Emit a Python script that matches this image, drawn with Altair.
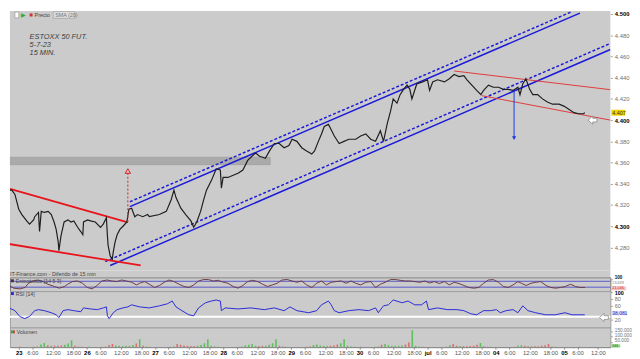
import json
import altair as alt
import numpy as np
import pandas as pd

FONT = "Liberation Sans"
BG = "#cbcbcb"
W = 611
X_DOMAIN = [-1.135, 172.2]
P_DOMAIN = [4258.3, 4502.8]
S_DOMAIN = [-20, 120]
R_DOMAIN = [-2.9, 102.9]
V_DOMAIN = [0, 187500]
H_PRICE, H_STRIP, H_STOCH, H_RSI, H_VOL = 264, 7, 14, 37, 20

# ---------------- data ----------------
day_labels = ["23", "26", "27", "28", "29", "30", "jul", "04", "05"]
tick_hours = [0, 4, 10, 16]          # session hours: day start, 6:00, 12:00, 18:00
price_ticks = list(range(4280, 4501, 20))

# (session hour, price)
price_points = [
    (-3.1, 4332), (-2.0, 4334), (-0.6, 4334), (0.3, 4330), (1.4, 4316), (2.3, 4311), (3.7, 4305),
    (4.5, 4302), (5.7, 4306), (6.0, 4309), (7.1, 4313), (7.4, 4295), (7.9, 4314), (8.8, 4313),
    (9.9, 4314), (10.8, 4311), (11.6, 4304), (12.2, 4297), (12.8, 4285), (13.0, 4277), (13.6, 4291),
    (14.5, 4304), (15.6, 4306), (16.5, 4304), (17.3, 4305), (18.4, 4299), (19.3, 4295), (19.9, 4292),
    (20.1, 4304), (21.3, 4306), (22.1, 4305), (23.5, 4304), (25.0, 4299), (25.8, 4302), (26.7, 4308),
    (27.0, 4291), (27.2, 4282), (27.8, 4272), (28.4, 4269), (28.7, 4276), (29.2, 4285), (29.8, 4292),
    (30.6, 4297), (31.5, 4300), (32.6, 4304), (33.2, 4316), (34.0, 4317), (34.9, 4309), (35.7, 4311),
    (37.2, 4309), (38.6, 4311), (39.1, 4309), (42.0, 4311), (44.0, 4314), (45.4, 4325), (46.2, 4334),
    (46.8, 4327), (48.2, 4317), (49.6, 4311), (51.1, 4305), (51.9, 4299), (52.8, 4304), (53.9, 4314),
    (54.8, 4325), (55.6, 4334), (57.0, 4343), (58.4, 4354), (59.6, 4353), (59.9, 4336), (60.4, 4346),
    (61.8, 4346), (63.3, 4348), (64.7, 4350), (66.1, 4353), (67.5, 4362), (68.4, 4365), (69.8, 4369),
    (70.9, 4366), (71.8, 4365), (72.6, 4364), (73.8, 4371), (75.2, 4378), (76.6, 4378), (78.0, 4374),
    (79.4, 4376), (80.3, 4382), (81.7, 4380), (83.1, 4374), (84.5, 4371), (86.0, 4368), (86.8, 4371),
    (87.9, 4380), (88.8, 4387), (89.6, 4394), (90.8, 4396), (91.6, 4391), (92.5, 4385), (93.9, 4378),
    (95.3, 4380), (96.7, 4382), (98.7, 4382), (100.1, 4385), (101.6, 4387), (103.0, 4382), (104.4, 4380),
    (105.8, 4390), (106.7, 4380), (107.8, 4397), (108.7, 4408), (109.5, 4420), (110.6, 4416), (111.5, 4424),
    (112.3, 4428), (113.5, 4433), (114.3, 4429), (114.9, 4420), (116.3, 4434), (118.0, 4436), (119.4, 4438),
    (120.0, 4428), (120.9, 4436), (122.3, 4438), (124.3, 4436), (125.7, 4439), (127.1, 4443), (128.5, 4441),
    (129.9, 4442), (130.8, 4438), (132.2, 4433), (133.6, 4428), (134.8, 4424), (135.6, 4428), (137.0, 4433),
    (138.4, 4431), (139.9, 4431), (141.3, 4429), (142.7, 4429), (144.1, 4428), (145.5, 4431), (146.1, 4424),
    (146.9, 4434), (147.8, 4439), (148.9, 4429), (149.8, 4424), (151.2, 4424), (152.6, 4420), (154.0, 4417),
    (155.5, 4415), (157.4, 4415), (158.9, 4413), (160.3, 4410), (161.7, 4407), (163.1, 4406), (164.5, 4406),
    (164.8, 4407),
]

stoch_points = [
    (-3.4, 77), (-2.0, 50), (-0.1, 10), (1.8, 3), (3.2, 17), (4.2, 60), (5.6, 83), (7.0, 93), (8.4, 77), (9.8, 50),
    (11.7, 27), (13.1, 10), (14.6, 27), (15.5, 50), (16.9, 77), (18.3, 83), (19.8, 60), (21.2, 17), (22.6, 3), (24.0, 37),
    (25.4, 83), (26.9, 93), (28.3, 83), (29.7, 77), (31.1, 93), (32.5, 83), (34.0, 70), (35.4, 43), (36.3, 60), (37.7, 77),
    (39.1, 50), (40.6, 17), (42.0, 37), (43.4, 70), (44.8, 93), (46.2, 77), (47.7, 50), (49.1, 27), (50.5, 17), (51.9, 43),
    (53.3, 83), (54.8, 98), (56.2, 97), (57.6, 83), (59.0, 90), (59.9, 77), (61.8, 60), (63.3, 27), (64.7, 10), (66.1, 37),
    (67.5, 77), (68.9, 90), (70.4, 77), (71.8, 50), (73.2, 27), (74.6, 43), (76.0, 60), (77.4, 93), (78.9, 98), (80.3, 83),
    (81.7, 70), (83.1, 83), (84.5, 43), (86.0, 17), (87.4, 60), (88.8, 83), (90.2, 43), (91.6, 70), (93.0, 77), (94.5, 83),
    (95.9, 60), (97.3, 83), (98.7, 60), (100.1, 43), (101.6, 70), (103.0, 77), (104.4, 17), (105.8, 50), (107.2, 70), (108.7, 97),
    (110.1, 98), (111.5, 90), (112.9, 83), (114.3, 83), (115.7, 77), (117.2, 70), (118.6, 83), (120.0, 63), (121.4, 77), (122.8, 57),
    (124.3, 77), (125.7, 43), (127.1, 70), (128.5, 57), (129.9, 37), (131.3, 17), (132.8, 10), (134.2, 17), (135.6, 60), (137.0, 93),
    (138.4, 97), (139.9, 70), (141.3, 27), (142.7, 17), (144.1, 43), (145.5, 77), (146.5, 60), (147.9, 37), (149.3, 60), (150.7, 70),
    (152.1, 77), (153.6, 37), (155.0, 17), (156.4, 10), (157.8, 17), (159.2, 27), (160.7, 50), (162.1, 27), (163.5, 17), (164.9, 17),
]

rsi_points = [
    (-3.4, 57), (-1.4, 54), (0.3, 46), (1.7, 29), (3.1, 23), (4.5, 29), (6.0, 46), (7.1, 49), (8.8, 46), (10.8, 40),
    (12.2, 34), (13.0, 26), (14.2, 46), (15.6, 49), (17.3, 46), (19.3, 43), (20.1, 54), (22.1, 51), (24.1, 49), (25.8, 54),
    (26.7, 57), (27.0, 31), (27.5, 23), (28.7, 40), (29.8, 49), (31.5, 54), (32.9, 57), (34.0, 63), (36.3, 57), (39.1, 54),
    (42.0, 60), (44.3, 66), (45.7, 74), (46.8, 57), (48.5, 46), (50.5, 34), (51.9, 31), (53.3, 54), (55.3, 69), (57.0, 74),
    (58.4, 77), (59.6, 74), (59.9, 46), (61.0, 54), (64.7, 51), (68.4, 54), (72.3, 49), (75.2, 54), (78.0, 46), (79.7, 57),
    (81.7, 46), (85.1, 40), (87.4, 46), (88.8, 63), (90.8, 74), (91.6, 63), (92.5, 46), (93.9, 40), (96.7, 46), (99.6, 49),
    (102.4, 46), (104.4, 54), (105.2, 40), (106.7, 60), (108.1, 63), (109.5, 77), (112.1, 69), (113.8, 74), (115.7, 63), (117.7, 63),
    (119.1, 74), (119.7, 49), (122.3, 54), (125.1, 49), (127.9, 49), (129.9, 46), (131.9, 37), (133.6, 34), (135.6, 46), (137.6, 46),
    (139.3, 49), (140.4, 40), (142.1, 46), (144.1, 49), (145.5, 40), (146.9, 60), (148.4, 46), (150.6, 40), (153.5, 34), (156.3, 34),
    (159.1, 40), (161.1, 34), (163.1, 34), (164.8, 34),
]

# hourly volume (thousands), session hours 2:00 ... 21:00 for each trading day
volume_k = [
    [3, 2, 2, 2, 3, 5, 25, 40, 18, 14, 12, 12, 15, 22, 35, 65, 12, 6, 4, 2],
    [3, 2, 2, 2, 3, 6, 20, 30, 15, 12, 10, 12, 14, 20, 35, 75, 14, 7, 4, 2],
    [2, 2, 1, 2, 3, 5, 30, 22, 15, 12, 10, 11, 13, 20, 38, 75, 12, 6, 4, 2],
    [2, 1, 1, 2, 3, 5, 18, 22, 30, 12, 10, 12, 14, 22, 36, 75, 12, 6, 3, 2],
    [2, 2, 1, 2, 3, 5, 20, 25, 16, 12, 10, 12, 15, 24, 38, 75, 12, 6, 4, 2],
    [3, 2, 2, 2, 3, 6, 22, 30, 18, 14, 12, 14, 16, 26, 45, 160, 14, 7, 4, 2],
    [2, 1, 1, 1, 2, 4, 18, 30, 14, 10, 8, 9, 10, 14, 22, 40, 8, 4, 3, 2],
    [2, 1, 1, 1, 2, 4, 15, 18, 12, 9, 8, 8, 9, 12, 18, 30, 6, 3, 2, 1],
    [2, 1, 1, 2, 3],
]

# drawn annotations: (t1, p1, t2, p2)
band_zone = [(-3.4, 4358, 74.0, 4365)]
red_thick_lines = [(-1.13, 4335.2, 32.9, 4303.7), (-3.4, 4284.3, 36.6, 4263.0)]
blue_solid_lines = [(33.5, 4318.5, 163.4, 4500.9), (27.8, 4263.0, 172.2, 4466.6)]
blue_dashed_lines = [(33.5, 4323.1, 160.9, 4502.0), (26.4, 4266.7, 172.2, 4472.3)]
red_thin_lines = [(127.1, 4446.3, 172.2, 4428.7), (135.0, 4423.1, 172.2, 4400.0)]
red_target = [(32.9, 4304, 4352)]     # (t, from, to)
blue_target = [(144.4, 4427, 4383)]
note_lines = [(4.54, 4478.7, "ESTOXX 50 FUT."), (4.54, 4470.4, "5-7-23"), (4.54, 4463.0, "15 MIN.")]
last_price = 4407
price_marker = (167.1, 4400)
rsi_marker = (170.4, 26)
rsi_level = 28.6

# ---------------- tables ----------------
def seg_df(rows):
    return pd.DataFrame(rows, columns=["t1", "p1", "t2", "p2"])

price_df = pd.DataFrame(price_points, columns=["t", "p"])
stoch_df = pd.DataFrame(stoch_points, columns=["t", "v"])
rsi_df = pd.DataFrame(rsi_points, columns=["t", "v"])

vol_rows = []
for d, vals in enumerate(volume_k):
    for i, v in enumerate(vals):
        t = d * 20 + i + 0.5
        a = np.interp(t - 0.5, price_df.t, price_df.p)
        b = np.interp(t + 0.5, price_df.t, price_df.p)
        vol_rows.append({"t": t, "v": v * 1000, "dir": "up" if b >= a else "down"})
vol_df = pd.DataFrame(vol_rows)

x_ticks = [d * 20 + h for d in range(len(day_labels)) for h in tick_hours if d * 20 + h <= X_DOMAIN[1]]
dummy = pd.DataFrame({"a": [0]})

# ---------------- scales & axes ----------------
xs = alt.Scale(domain=X_DOMAIN, nice=False, zero=False)
ps = alt.Scale(domain=P_DOMAIN, nice=False, zero=False)
ss = alt.Scale(domain=S_DOMAIN, nice=False, zero=False)
rs = alt.Scale(domain=R_DOMAIN, nice=False, zero=False)
vs = alt.Scale(domain=V_DOMAIN, nice=False, zero=False)

ES_FMT = "replace(format(datum.value, ',.0f'), ',', '.')"

def right_axis(values, expr=None, bold_test=None, size=6, offset=0):
    kw = dict(orient="right", values=values, labelFontSize=size, tickSize=2, tickColor="#a0a0a0",
              domain=False, grid=False, title=None, labelPadding=2, labelOverlap=False,
              labelFlush=False, labelFont=FONT, labelOffset=offset)
    if expr:
        kw["labelExpr"] = expr
    if bold_test:
        kw["labelFontWeight"] = {"condition": {"test": bold_test, "value": "bold"}, "value": "normal"}
        kw["labelColor"] = {"condition": {"test": bold_test, "value": "#000000"}, "value": "#707070"}
    else:
        kw["labelColor"] = "#707070"
    return alt.Axis(**kw)

price_axis = right_axis(price_ticks, ES_FMT, "datum.value % 100 === 0")
stoch_axis = right_axis([100], None, "datum.value === 100", size=4.6, offset=-1.6)
rsi_axis = right_axis([100, 80, 60, 20], None, "datum.value === 100", size=5.5)
vol_axis = right_axis([50000, 100000, 150000], ES_FMT, None, size=4.8, offset=-1)

day_test = "datum.value % 20 === 0"
x_axis = alt.Axis(
    values=x_ticks,
    labelExpr=f"datum.value % 20 === 0 ? {json.dumps(day_labels)}[floor(datum.value / 20)] : (datum.value % 20 + 2) + ':00'",
    labelFontSize=6, labelFont=FONT,
    labelFontWeight={"condition": {"test": day_test, "value": "bold"}, "value": "normal"},
    labelColor={"condition": {"test": day_test, "value": "#000000"}, "value": "#555555"},
    tickSize=2, tickColor="#888888", domainColor="#888888", labelPadding=1,
    grid=False, title=None, labelOverlap=False, labelFlush=False,
)

def X(f, axis=None):
    return alt.X(f"{f}:Q", scale=xs, axis=axis)

def PY(f):
    return alt.Y(f"{f}:Q", scale=ps, axis=price_axis)

def label(text, x, y, size=5.5, color="#333333", **kw):
    return alt.Chart(dummy).mark_text(text=text, align="left", baseline="middle", fontSize=size,
                                      color=color, font=FONT, **kw).encode(x=alt.value(x), y=alt.value(y))

def box(x1, x2, y1, y2, fill, stroke=None):
    kw = {"fill": fill}
    if stroke:
        kw.update(stroke=stroke, strokeWidth=0.6)
    return alt.Chart(dummy).mark_rect(**kw).encode(x=alt.value(x1), x2=alt.value(x2), y=alt.value(y1), y2=alt.value(y2))

ARROW = "M -1 0 L 0 -0.9 L 0 -0.4 L 0.9 -0.4 L 0.9 0.4 L 0 0.4 L 0 0.9 Z"

# ---------------- price panel ----------------
band = alt.Chart(seg_df(band_zone)).mark_rect(color="#aaaaaa", stroke="#9a9a9a", strokeWidth=0.6, clip=True).encode(
    x=X("t1"), x2="t2:Q", y=PY("p1"), y2="p2:Q")

def seg_layer(rows, color, width, dash=None):
    kw = dict(color=color, strokeWidth=width, clip=True)
    if dash:
        kw["strokeDash"] = dash
    return alt.Chart(seg_df(rows)).mark_rule(**kw).encode(x=X("t1"), x2="t2:Q", y=PY("p1"), y2="p2:Q")

blue_solid = seg_layer(blue_solid_lines, "#1a1ad8", 1.5)
blue_dashed = seg_layer(blue_dashed_lines, "#1a1ad8", 1.5, [3, 2])
red_thick = seg_layer(red_thick_lines, "#e8141c", 1.8)
red_thin = seg_layer(red_thin_lines, "#e03a3a", 1.0)

price_line = alt.Chart(price_df).mark_line(color="#1e1e1e", strokeWidth=1.2, clip=True).encode(x=X("t"), y=PY("p"))

rt_df = pd.DataFrame(red_target, columns=["t", "p1", "p2"])
red_arrow = alt.Chart(rt_df).mark_rule(color="#e02020", strokeWidth=1, strokeDash=[2, 2]).encode(
    x=X("t"), y=PY("p1"), y2="p2:Q")
red_head = alt.Chart(rt_df).mark_point(shape="triangle-up", filled=False, size=30, color="#e02020",
                                       strokeWidth=1, opacity=1).encode(x=X("t"), y=PY("p2"))
bt_df = pd.DataFrame(blue_target, columns=["t", "p1", "p2"])
blue_arrow = alt.Chart(bt_df).mark_rule(color="#1a3ae0", strokeWidth=1).encode(x=X("t"), y=PY("p1"), y2="p2:Q")
blue_head = alt.Chart(bt_df).mark_point(shape="triangle-down", filled=True, size=18, color="#1a3ae0",
                                        opacity=1).encode(x=X("t"), y=PY("p2"))

marker_df = pd.DataFrame([price_marker], columns=["t", "p"])
white_arrow = alt.Chart(marker_df).mark_point(shape=ARROW, filled=True, fill="white", stroke="#8a8a8a",
                                              strokeWidth=0.8, size=90, opacity=1).encode(x=X("t"), y=PY("p"))

notes = alt.Chart(pd.DataFrame(note_lines, columns=["t", "p", "txt"])).mark_text(
    align="left", baseline="middle", fontSize=7.5, fontStyle="italic", color="#3c3c3c", font=FONT).encode(
    x=X("t"), y=PY("p"), text="txt:N")

tag_df = pd.DataFrame({"p": [last_price], "lo": [last_price - 2.8], "hi": [last_price + 2.8],
                       "txt": [f"{last_price // 1000}.{last_price % 1000:03d}"]})
tag_rect = alt.Chart(tag_df).mark_rect(fill="#f0d400").encode(
    x=alt.value(W + 1), x2=alt.value(W + 15), y=PY("lo"), y2="hi:Q")
tag_text = alt.Chart(tag_df).mark_text(align="left", baseline="middle", fontSize=5.5, color="#333",
                                       font=FONT).encode(x=alt.value(W + 2), y=PY("p"), text="txt:N")

toolbar = [
    box(5, 9, 1, 7, "#ffffff", "#888888"),
    label("▶", 11, 4, size=6, color="#2faa2f"),
    box(20, 23, 2.5, 5.5, "#d03030"),
    label("Precio", 25, 4, size=5.5, color="#444444"),
    box(44, 66, 0.5, 7.5, "#dcdcdc", "#9a9a9a"),
    label("SMA (20)", 46, 4, size=5.5, color="#777777"),
]

price_panel = alt.layer(
    band, blue_solid, blue_dashed, red_thick, red_thin, price_line,
    red_arrow, red_head, blue_arrow, blue_head, white_arrow, notes, tag_rect, tag_text, *toolbar
).properties(width=W, height=H_PRICE, view=alt.ViewBackground(fill=BG, stroke=None))

strip_panel = alt.layer(
    label("IT-Finance.com - Diferido de 15 min", 0, 4, size=5.5, color="#444444")
).properties(width=W, height=H_STRIP, view=alt.ViewBackground(fill=BG, stroke=None))

# ---------------- stochastic ----------------
stoch_levels = alt.Chart(pd.DataFrame({"v": [80, 20]})).mark_rule(color="#5858d0", strokeWidth=1).encode(
    y=alt.Y("v:Q", scale=ss, axis=stoch_axis))
stoch_line = alt.Chart(stoch_df).mark_line(color="#6e3c3c", strokeWidth=1, clip=True).encode(
    x=X("t"), y=alt.Y("v:Q", scale=ss, axis=stoch_axis))
stoch_vals = pd.DataFrame({"v": [59, 14], "txt": ["23,639", "21,536"], "c": ["#777777", "#d02020"]})
stoch_box = box(W + 1, W + 16, 9.3, 13.3, "#f2c4c4")
stoch_txt = alt.Chart(stoch_vals).mark_text(align="left", baseline="middle", fontSize=3.8, font=FONT).encode(
    x=alt.value(W + 2), y=alt.Y("v:Q", scale=ss, axis=stoch_axis), text="txt:N",
    color=alt.Color("c:N", scale=None))
stoch_panel = alt.layer(
    stoch_levels, stoch_line, stoch_box, stoch_txt,
    box(1, 4, 2, 5, "#5a2a2a"),
    label("Estocástico [14 5 3]", 6, 3.5, size=5.3, color="#444444"),
).properties(width=W, height=H_STOCH, view=alt.ViewBackground(fill=BG, stroke="#7a7a7a", strokeWidth=1))

# ---------------- RSI ----------------
rsi_white = alt.Chart(pd.DataFrame({"v": [rsi_level]})).mark_rule(color="white", strokeWidth=2).encode(
    y=alt.Y("v:Q", scale=rs, axis=rsi_axis))
rsi_line = alt.Chart(rsi_df).mark_line(color="#2a2ad8", strokeWidth=1, clip=True).encode(
    x=X("t"), y=alt.Y("v:Q", scale=rs, axis=rsi_axis))
rsi_mark = alt.Chart(pd.DataFrame([rsi_marker], columns=["t", "v"])).mark_point(
    shape=ARROW, filled=True, fill="white", stroke="#8a8a8a", strokeWidth=0.8, size=90, opacity=1).encode(
    x=X("t"), y=alt.Y("v:Q", scale=rs, axis=rsi_axis))
rsi_val = pd.DataFrame({"v": [38], "lo": [33], "hi": [43], "txt": ["38,081"]})
rsi_box = alt.Chart(rsi_val).mark_rect(fill="#d4d4f4").encode(
    x=alt.value(W + 1), x2=alt.value(W + 17), y=alt.Y("lo:Q", scale=rs, axis=rsi_axis), y2="hi:Q")
rsi_txt = alt.Chart(rsi_val).mark_text(align="left", baseline="middle", fontSize=5, color="#3030c0",
                                       font=FONT).encode(
    x=alt.value(W + 2), y=alt.Y("v:Q", scale=rs, axis=rsi_axis), text="txt:N")
rsi_panel = alt.layer(
    rsi_white, rsi_line, rsi_mark, rsi_box, rsi_txt,
    box(1, 4, 1, 4, "#2a2ad8"),
    label("RSI [14]", 6, 2.5, size=5.3, color="#444444"),
).properties(width=W, height=H_RSI, view=alt.ViewBackground(fill=BG, stroke="#a0a0a0", strokeWidth=1))

# ---------------- volume ----------------
vol_bars = alt.Chart(vol_df).mark_bar(size=1.6, clip=True).encode(
    x=X("t", axis=x_axis),
    y=alt.Y("v:Q", scale=vs, axis=vol_axis),
    color=alt.Color("dir:N", scale=alt.Scale(domain=["up", "down"], range=["#5cc05c", "#dc6e6e"]), legend=None),
)
vol_box = box(W + 1, W + 10, 17.2, 20.4, "#8cd68c")
vol_txt = label("243", W + 2, 18.8, size=3.4, color="#1f5f1f")
vol_panel = alt.layer(
    vol_bars, vol_box, vol_txt,
    box(1, 3, 3, 6, "#3aa03a"), box(3, 5, 3, 6, "#d04040"),
    label("Volumen", 7, 4.5, size=5.3, color="#444444"),
).properties(width=W, height=H_VOL, view=alt.ViewBackground(fill=BG, stroke="#a0a0a0", strokeWidth=1))

chart = alt.vconcat(
    price_panel, strip_panel, stoch_panel, rsi_panel, vol_panel, spacing=0, bounds="flush"
).properties(
    padding={"left": 0, "top": 0, "right": 0, "bottom": 0}, background="white"
).configure(font=FONT).configure_view(stroke=None)

chart.save("out.html", embed_options={"renderer": "svg", "actions": False})
